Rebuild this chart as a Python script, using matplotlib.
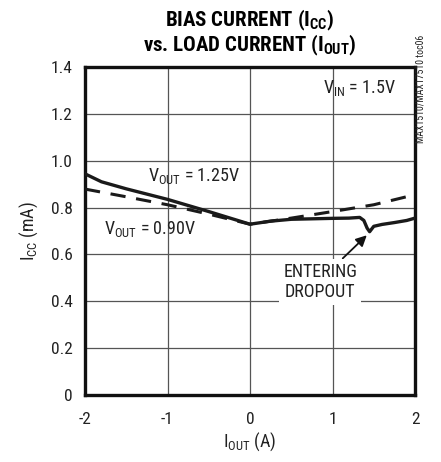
import matplotlib
matplotlib.use("Agg")
import matplotlib.pyplot as plt
import numpy as np

plt.rcParams['font.family'] = ['Roboto Condensed', 'DejaVu Sans']
plt.rcParams['mathtext.fontset'] = 'custom'
plt.rcParams['mathtext.rm'] = 'Roboto Condensed'
plt.rcParams['mathtext.bf'] = 'Roboto Condensed:bold'

# V_OUT = 1.25V (solid)
i_out_125 = [-2.0, -1.8, -1.5, -1.0, -0.5, 0.0, 0.25, 0.5, 0.75, 1.0, 1.2, 1.33, 1.38, 1.42, 1.45, 1.5, 1.6, 1.75, 1.9, 2.0]
icc_125 = [0.944, 0.91, 0.88, 0.835, 0.783, 0.729, 0.742, 0.750, 0.752, 0.754, 0.755, 0.758, 0.745, 0.712, 0.697, 0.720, 0.728, 0.736, 0.745, 0.755]

# V_OUT = 0.90V (dashed)
i_out_090 = [-2.0, -1.5, -1.0, -0.5, 0.0, 0.5, 1.0, 1.5, 2.0]
icc_090 = [0.879, 0.846, 0.812, 0.772, 0.729, 0.755, 0.783, 0.812, 0.855]

xticks = [-2, -1, 0, 1, 2]
xlabels = ['-2', '-1', '0', '1', '2']
yticks = [0, 0.2, 0.4, 0.6, 0.8, 1.0, 1.2, 1.4]
ylabels = ['0', '0.2', '0.4', '0.6', '0.8', '1.0', '1.2', '1.4']

fig = plt.figure(figsize=(4.41, 4.62), dpi=100)
ax = fig.add_axes([85/441, 67/462, 330/441, 328/462])

ax.plot(i_out_125, icc_125, color='#1a1a1a', lw=2.4, zorder=3)
ax.plot(i_out_090, icc_090, color='#1a1a1a', lw=2.2, ls=(0, (5, 3.5)), zorder=3)

ax.set_xlim(-2, 2)
ax.set_ylim(0, 1.4)
ax.set_xticks(xticks)
ax.set_xticklabels(xlabels)
ax.set_yticks(yticks)
ax.set_yticklabels(ylabels)
ax.tick_params(length=0, labelsize=12.5, pad=9, colors='#222222')
ax.tick_params(axis='x', pad=12)
ax.grid(True, color='#555555', lw=0.9)
for s in ax.spines.values():
    s.set_linewidth(2.4)
    s.set_color('#111111')

ax.set_xlabel(r'I$\mathregular{_{OUT}}$ (A)', fontsize=13, labelpad=3, color='#222222')
ax.set_ylabel(r'I$\mathregular{_{CC}}$ (mA)', fontsize=13, labelpad=8, color='#222222')

fig.text(250/441, 1 - 20/462, r'BIAS CURRENT (I$\mathbf{_{CC}}$)', ha='center', va='center',
         fontsize=15, fontweight='bold')
fig.text(250/441, 1 - 45/462, r'vs. LOAD CURRENT (I$\mathbf{_{OUT}}$)', ha='center', va='center',
         fontsize=15, fontweight='bold')

ax.text(1.33, 1.31, r'V$\mathregular{_{IN}}$ = 1.5V', ha='center', va='center', fontsize=13, color='#222222')
ax.text(-0.68, 0.935, r'V$\mathregular{_{OUT}}$ = 1.25V', ha='center', va='center', fontsize=13, color='#222222')
ax.text(-1.21, 0.71, r'V$\mathregular{_{OUT}}$ = 0.90V', ha='center', va='center', fontsize=13, color='#222222')
ax.text(0.85, 0.482, 'ENTERING\nDROPOUT', ha='center', va='center', fontsize=13, color='#222222',
        linespacing=1.15, bbox=dict(facecolor='white', edgecolor='none', pad=3), zorder=4)
ax.annotate('', xy=(1.44, 0.69), xytext=(1.1, 0.575),
            arrowprops=dict(arrowstyle='-|>', color='#111111', lw=1.3, mutation_scale=16))

fig.text(421/441, 1 - 89/462, 'MAX1510/MAX17510 toc06', rotation=90, ha='center', va='center',
         fontsize=7, color='#222222')

fig.savefig('out.png', dpi=100)
